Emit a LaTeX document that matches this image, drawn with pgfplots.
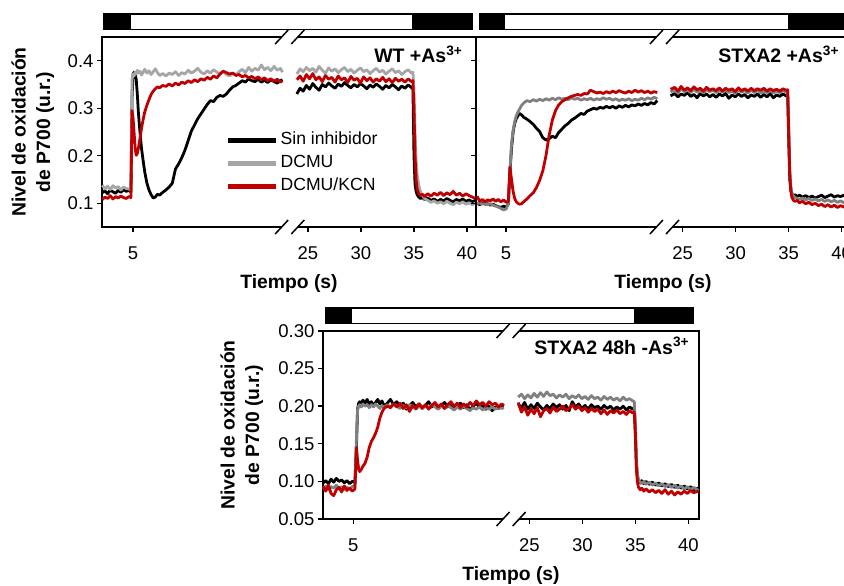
\documentclass[border=0pt]{standalone}
\usepackage{fontspec}
\setmainfont{Liberation Sans}
\usepackage{pgfplots}
\pgfplotsset{compat=1.18}
\usepackage{pgfplotstable}

\definecolor{gA}{RGB}{166,166,166}
\definecolor{gB}{RGB}{128,128,128}
\definecolor{cr}{RGB}{192,0,0}

% Panel 1: WT +As3+  (u = display time coordinate, k = Sin inhibidor, g = DCMU, r = DCMU/KCN)
\pgfplotstableread{
u k g r
5.6 0.122 0.138 0.108
5.85 0.126 0.130 0.113
6.1 0.120 0.136 0.110
6.35 0.128 0.129 0.116
6.6 0.124 0.137 0.109
6.85 0.121 0.132 0.114
7.1 0.127 0.135 0.111
7.35 0.123 0.128 0.115
7.6 0.129 0.134 0.112
7.85 0.125 0.131 0.110
8.1 0.127 0.130 0.114
8.3 0.124 0.128 0.112
8.4 0.320 0.360 0.295
8.5 0.372 0.372 0.280
8.6 0.376 0.368 0.248
8.7 0.371 0.376 0.215
8.8 0.360 0.372 0.201
8.9 0.330 0.380 0.205
9.0 0.292 0.374 0.216
9.15 0.250 0.378 0.236
9.3 0.215 0.370 0.258
9.45 0.190 0.376 0.276
9.6 0.166 0.382 0.292
9.8 0.143 0.374 0.306
10.0 0.128 0.379 0.318
10.2 0.118 0.371 0.329
10.4 0.111 0.377 0.336
10.6 0.113 0.383 0.341
10.8 0.119 0.375 0.345
11.0 0.117 0.369 0.343
11.3 0.123 0.373 0.348
11.6 0.128 0.368 0.346
11.9 0.134 0.374 0.351
12.2 0.142 0.371 0.347
12.5 0.172 0.377 0.353
12.8 0.183 0.369 0.349
13.1 0.196 0.375 0.355
13.4 0.212 0.372 0.352
13.7 0.232 0.380 0.358
14.0 0.252 0.374 0.354
14.3 0.265 0.378 0.360
14.6 0.278 0.384 0.356
14.9 0.288 0.376 0.362
15.2 0.298 0.372 0.359
15.5 0.308 0.379 0.365
15.8 0.316 0.374 0.361
16.1 0.314 0.381 0.368
16.4 0.323 0.376 0.364
16.7 0.327 0.372 0.372
17.0 0.325 0.378 0.378
17.3 0.330 0.371 0.375
17.6 0.338 0.368 0.372
17.9 0.345 0.374 0.374
18.2 0.348 0.370 0.369
18.5 0.353 0.377 0.371
18.8 0.358 0.382 0.366
19.1 0.355 0.375 0.369
19.4 0.362 0.386 0.364
19.7 0.358 0.378 0.367
20.0 0.356 0.384 0.362
20.3 0.361 0.380 0.366
20.6 0.355 0.391 0.360
20.9 0.359 0.381 0.364
21.2 0.354 0.386 0.358
21.5 0.360 0.379 0.362
21.8 0.356 0.388 0.357
22.1 0.353 0.380 0.361
22.4 0.358 0.384 0.355
22.6 0.360 0.376 0.358
23.2 nan nan nan
23.95 0.330 0.372 0.360
24.25 0.342 0.383 0.368
24.55 0.336 0.377 0.357
24.85 0.348 0.386 0.371
25.15 0.340 0.379 0.362
25.45 0.352 0.384 0.373
25.75 0.344 0.376 0.360
26.05 0.338 0.388 0.366
26.35 0.350 0.380 0.356
26.65 0.345 0.374 0.369
26.95 0.353 0.385 0.361
27.25 0.347 0.378 0.365
27.55 0.342 0.383 0.355
27.85 0.351 0.375 0.368
28.15 0.346 0.381 0.360
28.45 0.354 0.386 0.364
28.75 0.348 0.377 0.354
29.05 0.343 0.382 0.367
29.35 0.350 0.374 0.359
29.65 0.345 0.380 0.363
29.95 0.352 0.385 0.353
30.25 0.347 0.377 0.366
30.55 0.341 0.381 0.358
30.85 0.349 0.373 0.364
31.15 0.344 0.379 0.355
31.45 0.351 0.384 0.362
31.75 0.346 0.376 0.357
32.05 0.340 0.380 0.365
32.35 0.348 0.372 0.356
32.65 0.343 0.378 0.362
32.95 0.350 0.383 0.354
33.25 0.345 0.375 0.363
33.55 0.339 0.379 0.357
33.85 0.347 0.371 0.361
34.15 0.342 0.377 0.355
34.45 0.349 0.381 0.362
34.75 0.344 0.374 0.356
34.9 0.340 0.376 0.358
35.0 0.200 0.340 0.300
35.1 0.140 0.250 0.200
35.2 0.125 0.190 0.150
35.3 0.118 0.160 0.130
35.45 0.113 0.138 0.120
35.6 0.110 0.125 0.116
35.8 0.112 0.116 0.119
36.0 0.108 0.110 0.114
36.3 0.111 0.106 0.120
36.6 0.106 0.102 0.115
36.9 0.109 0.105 0.121
37.2 0.104 0.100 0.117
37.5 0.108 0.103 0.123
37.8 0.105 0.099 0.116
38.1 0.110 0.104 0.122
38.4 0.106 0.100 0.118
38.7 0.103 0.097 0.125
39.0 0.108 0.102 0.117
39.3 0.105 0.099 0.121
39.6 0.109 0.103 0.115
39.9 0.104 0.098 0.120
40.2 0.107 0.101 0.116
40.5 0.103 0.097 0.113
40.8 0.106 0.100 0.110
}\pA

% Panel 2: STXA2 +As3+
\pgfplotstableread{
u k g r
5.6 0.100 0.099 0.115
5.85 0.097 0.101 0.104
6.1 0.101 0.098 0.108
6.35 0.098 0.100 0.103
6.6 0.099 0.097 0.107
6.85 0.096 0.099 0.105
7.1 0.098 0.096 0.109
7.35 0.095 0.094 0.104
7.6 0.093 0.092 0.108
7.85 0.091 0.089 0.103
8.1 0.094 0.086 0.107
8.35 0.092 0.088 0.102
8.55 0.098 0.100 0.104
8.7 0.165 0.169 0.176
8.85 0.215 0.225 0.150
9.0 0.250 0.253 0.125
9.15 0.268 0.272 0.110
9.3 0.278 0.284 0.103
9.45 0.284 0.292 0.100
9.6 0.289 0.298 0.098
9.8 0.286 0.306 0.099
10.0 0.281 0.311 0.103
10.3 0.277 0.316 0.109
10.6 0.272 0.314 0.116
10.9 0.266 0.318 0.122
11.2 0.258 0.315 0.133
11.5 0.251 0.319 0.148
11.8 0.238 0.316 0.168
12.1 0.233 0.320 0.200
12.4 0.236 0.317 0.243
12.7 0.241 0.321 0.275
13.0 0.238 0.318 0.295
13.3 0.249 0.322 0.307
13.6 0.256 0.319 0.314
13.9 0.263 0.321 0.318
14.2 0.268 0.318 0.322
14.5 0.275 0.322 0.325
14.8 0.279 0.319 0.327
15.1 0.284 0.321 0.329
15.4 0.289 0.317 0.327
15.7 0.287 0.320 0.331
16.0 0.294 0.318 0.330
16.3 0.297 0.321 0.338
16.6 0.300 0.317 0.335
16.9 0.298 0.320 0.332
17.2 0.302 0.318 0.334
17.5 0.300 0.322 0.331
17.8 0.304 0.319 0.335
18.1 0.301 0.321 0.332
18.4 0.304 0.317 0.336
18.7 0.300 0.320 0.333
19.0 0.305 0.316 0.337
19.3 0.302 0.319 0.334
19.6 0.306 0.317 0.332
19.9 0.303 0.320 0.336
20.2 0.307 0.316 0.333
20.5 0.305 0.319 0.338
20.8 0.309 0.317 0.334
21.1 0.306 0.321 0.337
21.4 0.310 0.318 0.333
21.7 0.307 0.322 0.336
22.0 0.312 0.319 0.332
22.3 0.309 0.323 0.335
22.6 0.316 0.320 0.333
23.2 nan nan nan
23.85 0.326 0.334 0.340
24.25 0.331 0.339 0.344
24.55 0.324 0.332 0.336
24.85 0.330 0.341 0.346
25.15 0.327 0.335 0.338
25.45 0.333 0.338 0.343
25.75 0.325 0.333 0.337
26.05 0.329 0.340 0.345
26.35 0.322 0.334 0.339
26.65 0.331 0.337 0.342
26.95 0.326 0.332 0.336
27.25 0.330 0.339 0.344
27.55 0.324 0.335 0.338
27.85 0.329 0.338 0.341
28.15 0.323 0.333 0.337
28.45 0.330 0.337 0.343
28.75 0.326 0.334 0.336
29.05 0.331 0.339 0.342
29.35 0.321 0.333 0.338
29.65 0.328 0.336 0.341
29.95 0.324 0.331 0.335
30.25 0.330 0.338 0.343
30.55 0.325 0.334 0.337
30.85 0.329 0.337 0.341
31.15 0.322 0.332 0.336
31.45 0.328 0.338 0.342
31.75 0.325 0.333 0.337
32.05 0.330 0.337 0.341
32.35 0.323 0.332 0.338
32.65 0.329 0.336 0.342
32.95 0.324 0.333 0.336
33.25 0.331 0.338 0.341
33.55 0.322 0.332 0.337
33.85 0.328 0.336 0.340
34.15 0.325 0.333 0.336
34.45 0.330 0.337 0.341
34.75 0.326 0.334 0.338
34.9 0.328 0.336 0.339
35.0 0.230 0.260 0.250
35.1 0.150 0.170 0.160
35.2 0.128 0.135 0.125
35.3 0.120 0.122 0.112
35.45 0.116 0.115 0.106
35.6 0.118 0.112 0.104
35.8 0.114 0.110 0.106
36.0 0.117 0.108 0.101
36.3 0.113 0.111 0.104
36.6 0.116 0.107 0.099
36.9 0.112 0.110 0.102
37.2 0.115 0.106 0.097
37.5 0.111 0.109 0.100
37.8 0.114 0.105 0.095
38.1 0.117 0.108 0.098
38.4 0.112 0.104 0.093
38.7 0.115 0.107 0.097
39.0 0.118 0.103 0.092
39.3 0.113 0.106 0.096
39.6 0.116 0.102 0.091
39.9 0.114 0.105 0.095
40.2 0.117 0.101 0.092
40.5 0.113 0.104 0.096
40.75 0.115 0.102 0.093
}\pB

% Panel 3: STXA2 48h -As3+
\pgfplotstableread{
u k g r
5.55 0.098 0.090 0.093
5.8 0.101 0.094 0.087
6.05 0.097 0.089 0.095
6.3 0.103 0.093 0.084
6.55 0.099 0.091 0.081
6.8 0.104 0.095 0.089
7.05 0.100 0.090 0.092
7.3 0.102 0.093 0.086
7.55 0.098 0.089 0.094
7.8 0.101 0.092 0.088
8.05 0.097 0.090 0.091
8.3 0.100 0.093 0.087
8.55 0.099 0.095 0.090
8.7 0.150 0.160 0.145
8.8 0.196 0.195 0.128
8.9 0.204 0.200 0.117
9.0 0.206 0.202 0.113
9.15 0.203 0.199 0.116
9.3 0.208 0.203 0.120
9.5 0.204 0.200 0.124
9.7 0.209 0.202 0.132
9.9 0.203 0.198 0.145
10.1 0.206 0.202 0.153
10.3 0.201 0.199 0.158
10.5 0.205 0.203 0.164
10.7 0.209 0.200 0.172
10.9 0.203 0.197 0.184
11.1 0.207 0.201 0.192
11.3 0.200 0.198 0.197
11.6 0.204 0.202 0.200
11.9 0.209 0.199 0.198
12.2 0.202 0.203 0.203
12.5 0.206 0.200 0.199
12.8 0.200 0.197 0.204
13.1 0.204 0.201 0.197
13.4 0.196 0.198 0.202
13.7 0.201 0.202 0.193
14.0 0.205 0.199 0.201
14.3 0.199 0.196 0.197
14.6 0.203 0.200 0.203
14.9 0.197 0.197 0.198
15.2 0.201 0.201 0.202
15.5 0.206 0.198 0.196
15.8 0.199 0.202 0.201
16.1 0.203 0.199 0.205
16.4 0.197 0.196 0.199
16.7 0.201 0.200 0.203
17.0 0.205 0.197 0.197
17.3 0.199 0.201 0.202
17.6 0.203 0.198 0.206
17.9 0.196 0.195 0.200
18.2 0.200 0.199 0.204
18.5 0.204 0.196 0.198
18.8 0.198 0.200 0.203
19.1 0.202 0.197 0.199
19.4 0.195 0.194 0.205
19.7 0.200 0.198 0.201
20.0 0.204 0.196 0.207
20.3 0.198 0.199 0.202
20.6 0.201 0.195 0.205
20.9 0.196 0.198 0.200
21.2 0.200 0.196 0.206
21.5 0.194 0.199 0.202
21.8 0.199 0.196 0.204
22.1 0.197 0.199 0.199
22.4 0.201 0.197 0.203
22.6 0.200 0.198 0.201
23.2 nan nan nan
23.95 0.203 0.212 0.205
24.25 0.198 0.216 0.192
24.55 0.205 0.210 0.199
24.85 0.196 0.215 0.188
25.15 0.202 0.211 0.196
25.45 0.197 0.217 0.190
25.75 0.204 0.212 0.198
26.05 0.199 0.218 0.186
26.35 0.195 0.213 0.194
26.65 0.201 0.219 0.197
26.95 0.197 0.214 0.191
27.25 0.203 0.216 0.199
27.55 0.198 0.211 0.193
27.85 0.202 0.215 0.196
28.15 0.196 0.212 0.200
28.45 0.201 0.216 0.194
28.75 0.194 0.210 0.197
29.05 0.206 0.214 0.202
29.35 0.199 0.211 0.196
29.65 0.203 0.215 0.200
29.95 0.197 0.210 0.194
30.25 0.201 0.213 0.198
30.55 0.196 0.209 0.192
30.85 0.202 0.214 0.197
31.15 0.198 0.210 0.193
31.45 0.200 0.212 0.196
31.75 0.196 0.208 0.190
32.05 0.201 0.213 0.195
32.35 0.197 0.209 0.189
32.65 0.200 0.212 0.194
32.95 0.195 0.208 0.191
33.25 0.199 0.211 0.195
33.55 0.196 0.207 0.190
33.85 0.200 0.212 0.193
34.15 0.195 0.208 0.189
34.45 0.199 0.210 0.194
34.75 0.196 0.207 0.191
34.9 0.198 0.206 0.192
35.0 0.160 0.175 0.165
35.1 0.120 0.130 0.115
35.2 0.105 0.110 0.098
35.3 0.100 0.102 0.092
35.45 0.098 0.099 0.089
35.6 0.101 0.097 0.091
35.8 0.097 0.100 0.087
36.0 0.100 0.096 0.090
36.3 0.096 0.099 0.086
36.6 0.099 0.095 0.089
36.9 0.095 0.098 0.085
37.2 0.098 0.094 0.088
37.5 0.094 0.097 0.084
37.8 0.097 0.093 0.089
38.1 0.093 0.096 0.083
38.4 0.096 0.092 0.087
38.7 0.092 0.095 0.082
39.0 0.095 0.091 0.086
39.3 0.091 0.094 0.083
39.6 0.094 0.090 0.087
39.9 0.090 0.093 0.084
40.2 0.093 0.089 0.088
40.5 0.089 0.092 0.085
40.95 0.091 0.088 0.087
}\pC

% light/dark bar above an axis: #1 start, #2 light on, #3 light off, #4 end, #5 ymax
\newcommand{\lightbar}[5]{%
  \draw[line width=1.3pt, fill=white] ([yshift=7.5pt]axis cs:#1,#5) rectangle ([yshift=23pt]axis cs:#4,#5);
  \fill[black] ([yshift=7.5pt]axis cs:#1,#5) rectangle ([yshift=23pt]axis cs:#2,#5);
  \fill[black] ([yshift=7.5pt]axis cs:#3,#5) rectangle ([yshift=23pt]axis cs:#4,#5);
}
% axis break marks at y=#1
\newcommand{\brk}[1]{%
  \fill[white] ([yshift=-2pt]axis cs:22.52,#1) rectangle ([yshift=2pt]axis cs:24.04,#1);
  \draw[line width=1.5pt] ([xshift=-6.5pt,yshift=-7pt]axis cs:22.52,#1) -- ([xshift=6.5pt,yshift=7pt]axis cs:22.52,#1);
  \draw[line width=1.5pt] ([xshift=-6.5pt,yshift=-7pt]axis cs:24.04,#1) -- ([xshift=6.5pt,yshift=7pt]axis cs:24.04,#1);
}

\pgfplotsset{
  panel/.style={
    scale only axis, clip=false,
    tick pos=left, tick align=outside, major tick length=5pt,
    tick style={black, line width=1.4pt},
    axis line style={line width=1.6pt},
    /pgf/number format/assume math mode=true,
    tick label style={font=\fontsize{18.5}{20}\selectfont},
    xticklabel style={yshift=-11pt},
    xlabel={Tiempo (s)},
    xlabel style={at={(axis description cs:0.5,0)}, anchor=base, yshift=-62pt,
      font=\bfseries\fontsize{19.3}{22}\selectfont},
    ylabel style={anchor=center, align=center, font=\bfseries\fontsize{19.3}{24.3}\selectfont},
    unbounded coords=jump,
    every axis plot/.append style={line width=2.8pt, line join=round, mark=none},
  }
}

\begin{document}
\begin{tikzpicture}
% ---------- Panel 1 ----------
\begin{axis}[panel,
  at={(102pt,359pt)}, anchor=south west, width=374pt, height=190pt,
  xmin=5.57, xmax=40.85, ymin=0.05, ymax=0.45,
  xtick={8.49,25,30,35,40}, xticklabels={5,25,30,35,40},
  ytick={0.1,0.2,0.3,0.4},
  ylabel={Nivel de oxidación\\de P700 (u.r.)},
  ylabel style={at={(axis description cs:-0.185,0.5)}},
  legend style={at={(rel axis cs:0.322,0.524)}, anchor=north west, draw=none, fill=none,
    font=\fontsize{17.6}{20}\selectfont, row sep=2pt,
    nodes={inner sep=2pt, text height=13pt, text depth=4pt}},
  legend cell align=left,
  legend image code/.code={\draw[#1, line width=5pt] (0pt,0pt) -- (48pt,0pt);},
]
\addplot[black] table[x=u,y=k]{\pA}; \addlegendentry{Sin inhibidor}
\addplot[gA] table[x=u,y=g]{\pA}; \addlegendentry{DCMU}
\addplot[cr] table[x=u,y=r]{\pA}; \addlegendentry{DCMU/KCN}
\lightbar{5.75}{8.30}{34.81}{40.47}{0.45}
\brk{0.45}
\brk{0.05}
\node[anchor=base east, font=\bfseries\fontsize{19.5}{20}\selectfont] at (rel axis cs:0.973,0.865) {WT +As\textsuperscript{3+}};
\end{axis}

% ---------- Panel 2 ----------
\begin{axis}[panel,
  at={(476pt,359pt)}, anchor=south west, width=374pt, height=190pt,
  xmin=5.5, xmax=40.78, ymin=0.05, ymax=0.45,
  xtick={8.33,25,30,35,40}, xticklabels={5,25,30,35,40},
  ytick={0.1,0.2,0.3,0.4}, yticklabels={},
]
\addplot[black] table[x=u,y=k]{\pB};
\addplot[gB] table[x=u,y=g]{\pB};
\addplot[cr] table[x=u,y=r]{\pB};
\lightbar{5.81}{8.24}{34.96}{40.5}{0.45}
\brk{0.45}
\brk{0.05}
\node[anchor=base east, font=\bfseries\fontsize{19.5}{20}\selectfont] at (rel axis cs:0.98,0.865) {STXA2 +As\textsuperscript{3+}};
\end{axis}

% ---------- Panel 3 ----------
\begin{axis}[panel,
  at={(323pt,67pt)}, anchor=south west, width=376pt, height=188pt,
  xmin=5.54, xmax=41.0, ymin=0.05, ymax=0.30,
  xtick={8.4,25,30,35,40}, xticklabels={5,25,30,35,40},
  ytick={0.05,0.10,0.15,0.20,0.25,0.30},
  yticklabel style={/pgf/number format/.cd, fixed, fixed zerofill, precision=2},
  ylabel={Nivel de oxidación\\de P700 (u.r.)},
  ylabel style={at={(axis description cs:-0.216,0.5)}},
]
\addplot[black] table[x=u,y=k]{\pC};
\addplot[gB] table[x=u,y=g]{\pC};
\addplot[cr] table[x=u,y=r]{\pC};
\lightbar{5.79}{8.25}{34.88}{40.47}{0.30}
\brk{0.30}
\brk{0.05}
\node[anchor=base east, font=\bfseries\fontsize{19.5}{20}\selectfont] at (rel axis cs:0.983,0.876) {STXA2 48h -As\textsuperscript{3+}};
\end{axis}

\pgfresetboundingbox
\path[use as bounding box] (0pt,0pt) rectangle (844pt,586pt);
\end{tikzpicture}
\end{document}
